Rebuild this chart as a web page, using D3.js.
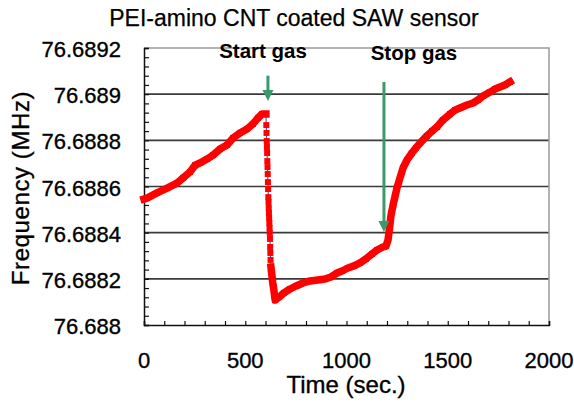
<!DOCTYPE html>
<html><head><meta charset="utf-8">
<script src="https://cdn.jsdelivr.net/npm/d3@7"></script>
<style>body{margin:0;background:#fff}svg{display:block}</style>
</head><body><svg id="c" width="574" height="403"></svg>
<script>
const title = "PEI-amino CNT coated SAW sensor";
const xTitle = "Time (sec.)";
const yTitle = "Frequency (MHz)";
const xTicks = [0, 500, 1000, 1500, 2000];
const xTickLabels = ["0", "500", "1000", "1500", "2000"];
const yTicks = [76.688, 76.6882, 76.6884, 76.6886, 76.6888, 76.689, 76.6892];
const yTickLabels = ["76.688", "76.6882", "76.6884", "76.6886", "76.6888", "76.689", "76.6892"];
const gridValues = [76.6882, 76.6884, 76.6886, 76.6888, 76.689];

// time (s) and frequency (MHz) of the trace
const time = [
  0, 15, 64, 114, 163, 193, 227, 252, 277, 311, 341, 375, 410, 440, 474, 509, 538, 563, 583, 602,
  604, 605, 606, 607, 608, 609, 610, 611, 612, 613, 614, 615, 616, 617, 618, 619, 620, 621, 622, 623, 624, 625,
  627, 630, 633, 636, 639, 642, 645, 648,
  667, 691, 721, 751, 785, 820, 859, 894, 923, 953, 978, 1007, 1037, 1067, 1096, 1126, 1151, 1180, 1195,
  1205, 1210, 1215, 1220, 1230, 1239, 1249, 1264, 1279, 1299, 1323, 1343, 1363, 1397, 1422, 1447, 1476, 1511,
  1536, 1560, 1595, 1625, 1649, 1674, 1709, 1733, 1758, 1783, 1807
];
const freq = [
  76.688546, 76.688550, 76.688572, 76.688593, 76.688615, 76.688637, 76.688663, 76.688692, 76.688702, 76.688719,
  76.688736, 76.688762, 76.688780, 76.688810, 76.688832, 76.688849, 76.688871, 76.688897, 76.688914, 76.688914,
  76.688866, 76.688832, 76.688797, 76.688771, 76.688745, 76.688710, 76.688684, 76.688654, 76.688619, 76.688589,
  76.688554, 76.688533, 76.688507, 76.688485, 76.688464, 76.688442, 76.688420, 76.688399, 76.688373, 76.688338,
  76.688312, 76.688282,
  76.688251, 76.688225, 76.688204, 76.688182, 76.688165, 76.688147, 76.688125, 76.688108,
  76.688121, 76.688139, 76.688156, 76.688169, 76.688182, 76.688191, 76.688195, 76.688199, 76.688208, 76.688225,
  76.688234, 76.688247, 76.688256, 76.688269, 76.688286, 76.688308, 76.688325, 76.688338, 76.688342,
  76.688368, 76.688403, 76.688438, 76.688477, 76.688520, 76.688554, 76.688593, 76.688637, 76.688680, 76.688715,
  76.688745, 76.688767, 76.688788, 76.688819, 76.688840, 76.688858, 76.688888, 76.688914,
  76.688931, 76.688940, 76.688953, 76.688962, 76.688975, 76.688992, 76.689009, 76.689022, 76.689031, 76.689040, 76.689053
];

// annotations: label, arrow time, arrow top freq, arrow tip freq, label time, label freq
const annLabels = ["Start gas", "Stop gas"];
const annTime = [612, 1185];
const annTop = [76.68908, 76.689053];
const annTip = [76.68897, 76.688403];
const annLabelTime = [588, 1333];
const annLabelFreq = [76.689155, 76.689150];

const svg = d3.select("#c");
const L = 144, R = 549, T = 48, B = 325;
const x = d3.scaleLinear().domain([0, 2000]).range([L, R]);
const y = d3.scaleLinear().domain([76.688, 76.6892]).range([B, T]);
const font = "'Liberation Sans', Arial, sans-serif";

// title
svg.append("text").attr("x", 294).attr("y", 26).attr("text-anchor", "middle")
  .attr("font-family", font).attr("font-size", 23).attr("fill", "#000")
  .attr("stroke", "#000").attr("stroke-width", 0.25).text(title);

// gridlines
svg.append("g").selectAll("line").data(gridValues).join("line")
  .attr("x1", L).attr("x2", R).attr("y1", d => y(d)).attr("y2", d => y(d))
  .attr("stroke", "#3a3a3a").attr("stroke-width", 1.6);

// frame top/right
svg.append("path").attr("d", `M${L},${T}H${R}V${B}`).attr("fill", "none")
  .attr("stroke", "#9a9a9a").attr("stroke-width", 1.5);

// axes (ticks inside)
const xAxis = d3.axisBottom(x).tickValues(d3.range(0, 2001, 100)).tickSize(-4).tickFormat("");
const gx = svg.append("g").attr("transform", `translate(0,${B})`).call(xAxis);
const minorY = d3.range(0, 31).map(i => 76.688 + i * 0.00004);
const yAxis = d3.axisLeft(y).tickValues(minorY).tickSize(-5).tickFormat("");
const gy = svg.append("g").attr("transform", `translate(${L},0)`).call(yAxis);
[gx, gy].forEach(g => {
  g.selectAll("path").attr("stroke", "#111").attr("stroke-width", 1.5);
  g.selectAll("line").attr("stroke", "#111").attr("stroke-width", 1.2);
});

// tick labels
svg.append("g").selectAll("text").data(xTicks).join("text")
  .attr("x", d => x(d)).attr("y", 368).attr("text-anchor", "middle")
  .attr("font-family", font).attr("font-size", 22).attr("fill", "#000")
  .attr("stroke", "#000").attr("stroke-width", 0.35)
  .text((d, i) => xTickLabels[i]);
svg.append("g").selectAll("text").data(yTicks).join("text")
  .attr("x", 121).attr("y", d => y(d) + 9).attr("text-anchor", "end")
  .attr("font-family", font).attr("font-size", 22).attr("fill", "#000")
  .attr("stroke", "#000").attr("stroke-width", 0.35)
  .text((d, i) => yTickLabels[i]);

// axis titles
svg.append("text").attr("x", 346).attr("y", 393).attr("text-anchor", "middle")
  .attr("font-family", font).attr("font-size", 24).attr("fill", "#000")
  .attr("stroke", "#000").attr("stroke-width", 0.35).text(xTitle);
svg.append("text").attr("transform", "translate(29,188) rotate(-90)").attr("text-anchor", "middle")
  .attr("font-family", font).attr("font-size", 24).attr("letter-spacing", 0.6).attr("fill", "#000")
  .attr("stroke", "#000").attr("stroke-width", 0.35).text(yTitle);

// data
const pts = time.map((t, i) => [t, freq[i]]);
const line = d3.line().x(d => x(d[0])).y(d => y(d[1]));
svg.append("path").attr("d", line(pts)).attr("fill", "none").attr("stroke", "#3344bb").attr("stroke-width", 1);

// thick runs where samples are dense (time gaps > 2 s represent continuous marker runs)
const runs = [];
let cur = [];
for (let i = 1; i < pts.length; i++) {
  if (pts[i][0] - pts[i - 1][0] > 2) {
    if (cur.length === 0) cur.push(pts[i - 1]);
    cur.push(pts[i]);
  } else if (cur.length) { runs.push(cur); cur = []; }
}
if (cur.length) runs.push(cur);
svg.append("g").selectAll("path").data(runs).join("path")
  .attr("d", d => line(d)).attr("fill", "none").attr("stroke", "#ff0000")
  .attr("stroke-width", 7.5).attr("stroke-linejoin", "round").attr("stroke-linecap", "square");

svg.append("g").selectAll("rect").data(pts).join("rect")
  .attr("x", d => x(d[0]) - 3).attr("y", d => y(d[1]) - 3)
  .attr("width", 6).attr("height", 6).attr("fill", "#ff0000");

// annotations
const green = "#3a9a6c";
annLabels.forEach((lab, i) => {
  const ax = x(annTime[i]), y0 = y(annTop[i]), y1 = y(annTip[i]);
  svg.append("line").attr("x1", ax).attr("x2", ax).attr("y1", y0).attr("y2", y1 - 10)
    .attr("stroke", green).attr("stroke-width", 3);
  svg.append("path").attr("d", `M${ax - 5.5},${y1 - 11}L${ax + 5.5},${y1 - 11}L${ax},${y1}Z`).attr("fill", green);
  svg.append("text").attr("x", x(annLabelTime[i])).attr("y", y(annLabelFreq[i])).attr("text-anchor", "middle")
    .attr("font-family", font).attr("font-size", 20.5).attr("font-weight", "bold").attr("fill", "#000").text(lab);
});
</script></body></html>
